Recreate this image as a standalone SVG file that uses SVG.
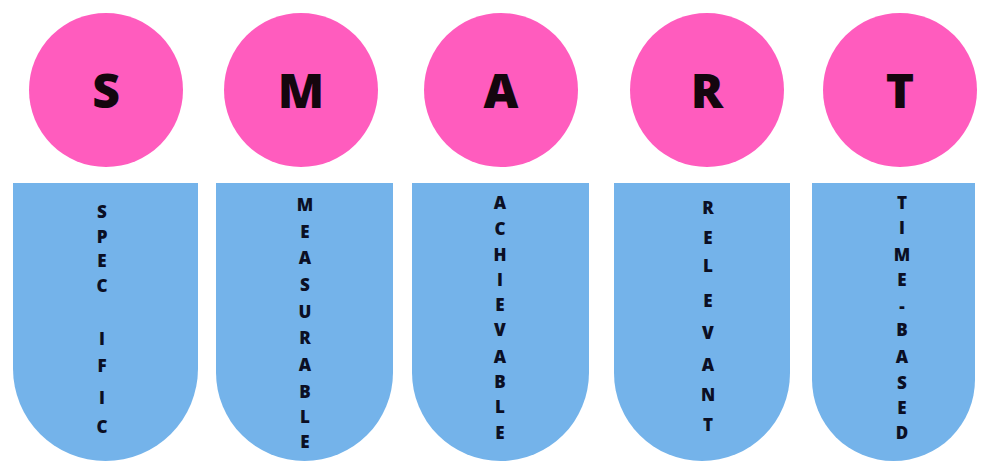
<svg xmlns="http://www.w3.org/2000/svg" width="982" height="463" viewBox="0 0 982 463">
<style>
.c{fill:#ff5cbe}
.b{fill:#74b3ea}
.big{font-family:"Open Sans","Liberation Sans",sans-serif;font-weight:800;font-size:48px;fill:#14060e;text-anchor:middle}
.sm{font-family:"Open Sans","Liberation Sans",sans-serif;font-weight:800;font-size:17px;fill:#0b0f24;text-anchor:middle}
</style>
<rect width="982" height="463" fill="#ffffff"/>
<g id="circle-s"><circle class="c" cx="106" cy="90" r="77"/><text class="big" x="106" y="108">S</text></g>
<g id="circle-m"><circle class="c" cx="301" cy="90" r="77"/><text class="big" x="301" y="108">M</text></g>
<g id="circle-a"><circle class="c" cx="501" cy="90" r="77"/><text class="big" x="501" y="108">A</text></g>
<g id="circle-r"><circle class="c" cx="707" cy="90" r="77"/><text class="big" x="707" y="108">R</text></g>
<g id="circle-t"><circle class="c" cx="900" cy="90" r="77"/><text class="big" x="900" y="108">T</text></g>
<g id="box-specific">
<path class="b" d="M13,183 H198 V368.5 A92.5,92.5 0 0 1 13,368.5 Z"/>
<text class="sm" x="102" y="218">S</text><text class="sm" x="102" y="243">P</text><text class="sm" x="102" y="267">E</text><text class="sm" x="102" y="292">C</text><text class="sm" x="102" y="345">I</text><text class="sm" x="102" y="372">F</text><text class="sm" x="102" y="404">I</text><text class="sm" x="102" y="433">C</text>
</g>
<g id="box-measurable">
<path class="b" d="M216,183 H393 V372.5 A88.5,88.5 0 0 1 216,372.5 Z"/>
<text class="sm" x="305" y="211">M</text><text class="sm" x="305" y="238">E</text><text class="sm" x="305" y="264">A</text><text class="sm" x="305" y="291">S</text><text class="sm" x="305" y="318">U</text><text class="sm" x="305" y="344">R</text><text class="sm" x="305" y="371">A</text><text class="sm" x="305" y="398">B</text><text class="sm" x="305" y="423">L</text><text class="sm" x="305" y="448">E</text>
</g>
<g id="box-achievable">
<path class="b" d="M412,183 H589 V372.5 A88.5,88.5 0 0 1 412,372.5 Z"/>
<text class="sm" x="500" y="209">A</text><text class="sm" x="500" y="235">C</text><text class="sm" x="500" y="261">H</text><text class="sm" x="500" y="286">I</text><text class="sm" x="500" y="311">E</text><text class="sm" x="500" y="336">V</text><text class="sm" x="500" y="363">A</text><text class="sm" x="500" y="388">B</text><text class="sm" x="500" y="413">L</text><text class="sm" x="500" y="439">E</text>
</g>
<g id="box-relevant">
<path class="b" d="M614,183 H790 V373 A88,88 0 0 1 614,373 Z"/>
<text class="sm" x="708" y="214">R</text><text class="sm" x="708" y="244">E</text><text class="sm" x="708" y="272">L</text><text class="sm" x="708" y="307">E</text><text class="sm" x="708" y="339">V</text><text class="sm" x="708" y="371">A</text><text class="sm" x="708" y="401">N</text><text class="sm" x="708" y="431">T</text>
</g>
<g id="box-time-based">
<path class="b" d="M812,183 H975 V379.5 A81.5,81.5 0 0 1 812,379.5 Z"/>
<text class="sm" x="902" y="209">T</text><text class="sm" x="902" y="234">I</text><text class="sm" x="902" y="261">M</text><text class="sm" x="902" y="286">E</text><text class="sm" x="902" y="312">-</text><text class="sm" x="902" y="336">B</text><text class="sm" x="902" y="363">A</text><text class="sm" x="902" y="389">S</text><text class="sm" x="902" y="414">E</text><text class="sm" x="902" y="439">D</text>
</g>
</svg>
